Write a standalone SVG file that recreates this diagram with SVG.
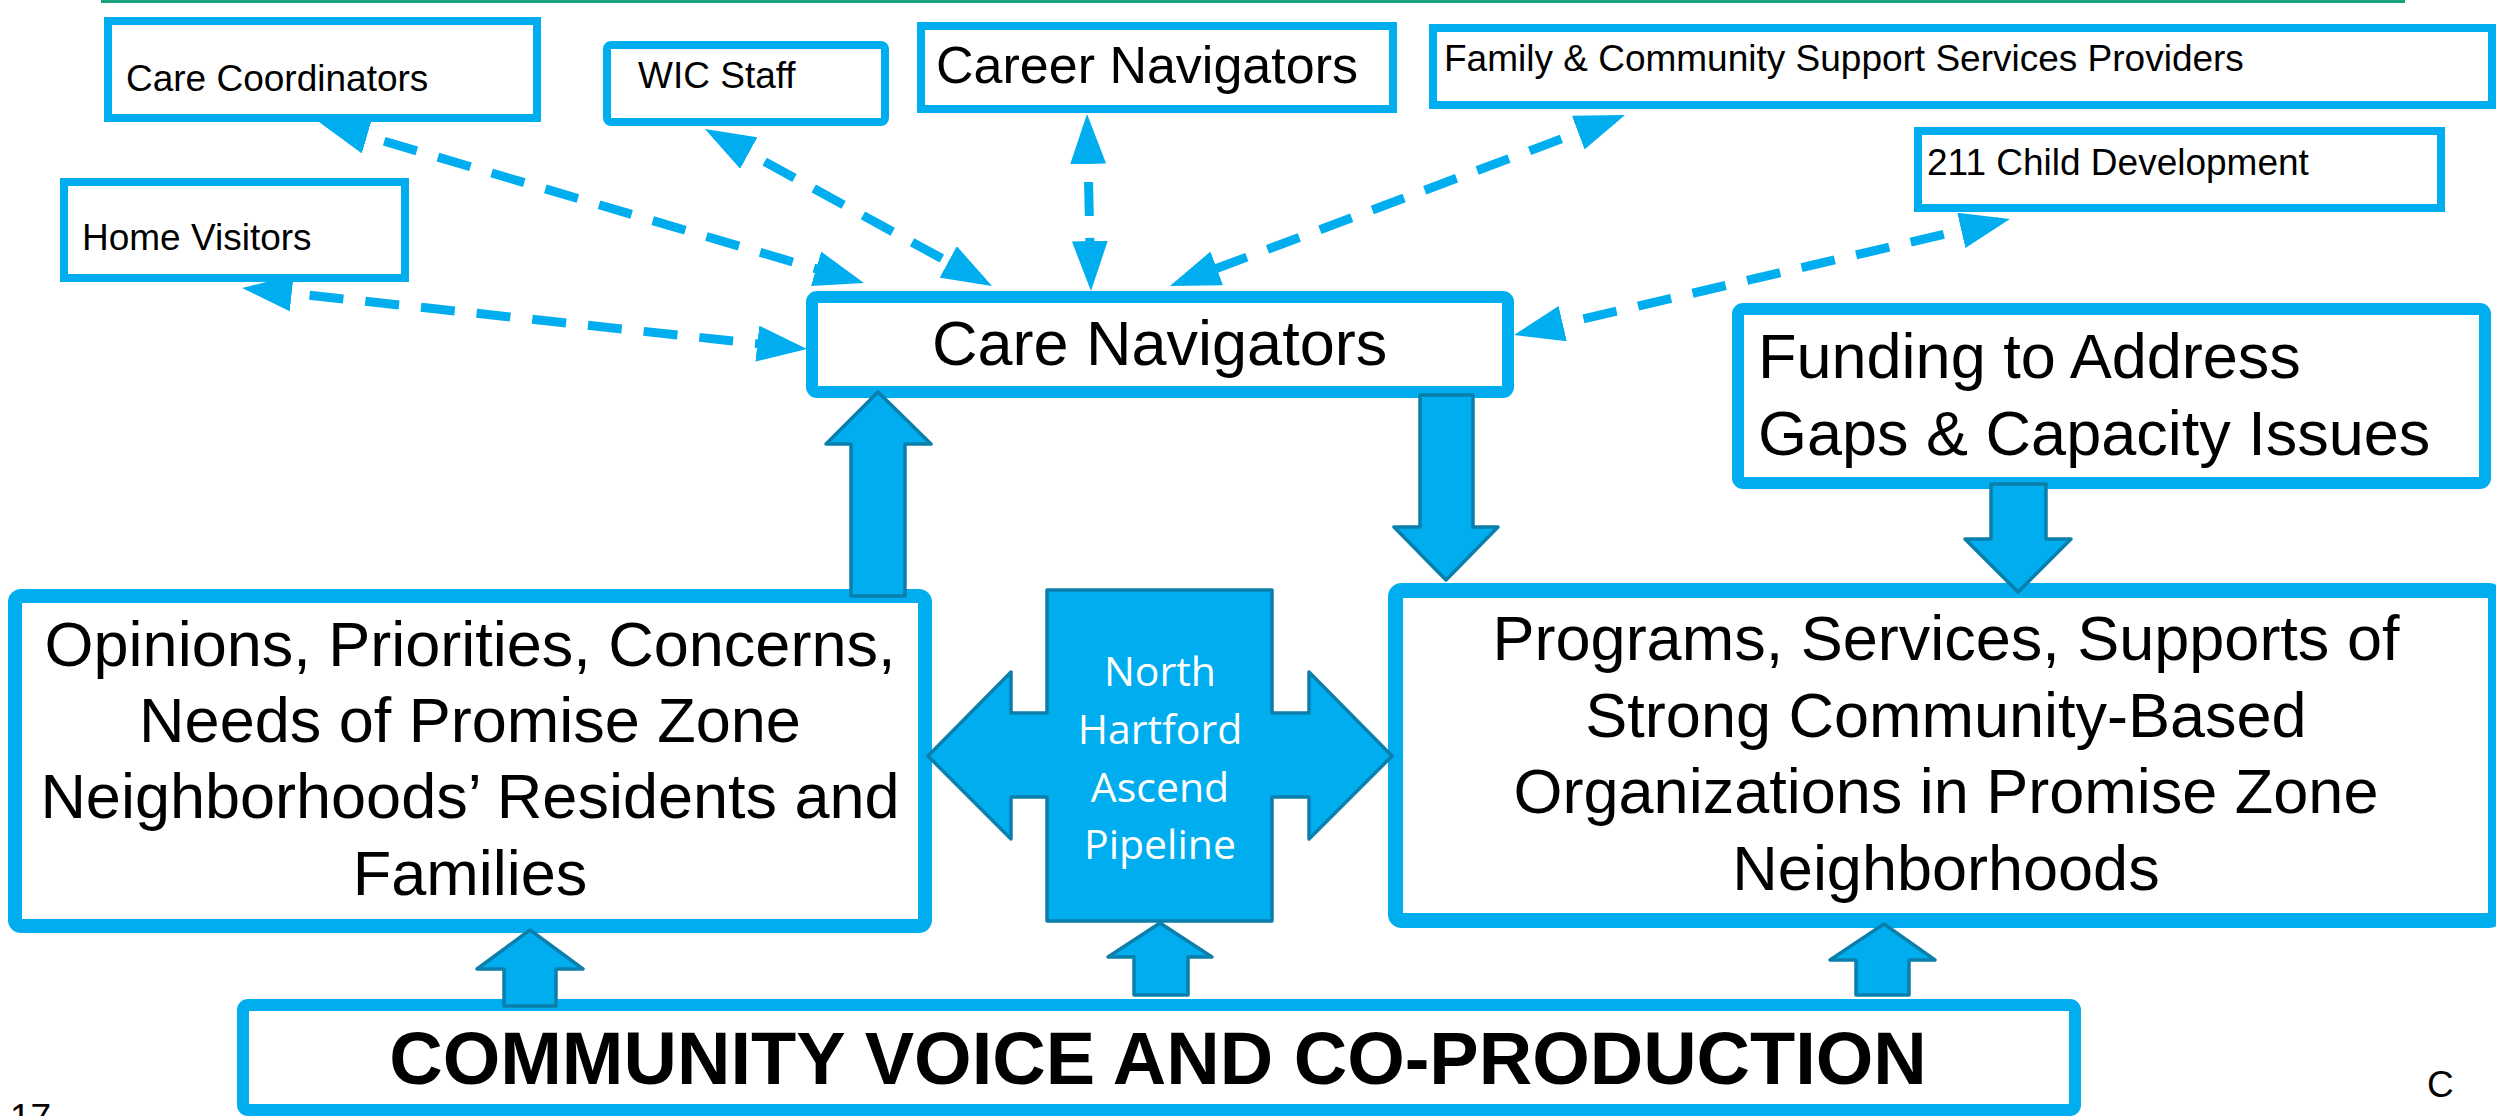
<svg xmlns="http://www.w3.org/2000/svg" width="2496" height="1116" viewBox="0 0 2496 1116">
<style>
.box{fill:#fff;stroke:#00AEEF}
.t{font-family:"Liberation Sans",Arial,sans-serif;fill:#000}
.blk{fill:#00AEEF;stroke:#0B7FAB;stroke-width:3.5;stroke-linejoin:round}
.dash{fill:none;stroke:#00AEEF;stroke-width:9;stroke-dasharray:34 22;marker-start:url(#ah);marker-end:url(#ah)}
.pt{font-family:"Open Sans","Noto Sans",sans-serif;fill:#fff;font-size:41px;text-anchor:middle}
</style>
<defs>
<marker id="ah" markerUnits="userSpaceOnUse" markerWidth="50" markerHeight="36" refX="38" refY="18" orient="auto-start-reverse" viewBox="0 0 50 36">
<path d="M0,0 L50,18 L0,36 z" fill="#00AEEF"/>
</marker>
</defs>
<line x1="101" y1="1.5" x2="2405" y2="1.5" stroke="#1BA37E" stroke-width="3"/>

<g id="care-coordinators"><rect class="box" x="108" y="21" width="429" height="97" stroke-width="8"/><text class="t" x="126" y="91" font-size="37">Care Coordinators</text></g>
<g id="wic-staff"><rect class="box" x="607" y="45" width="278" height="77" rx="4" stroke-width="8"/><text class="t" x="638" y="88" font-size="37">WIC Staff</text></g>
<g id="home-visitors"><rect class="box" x="64" y="182" width="341" height="96" stroke-width="8"/><text class="t" x="82" y="250" font-size="37">Home Visitors</text></g>
<g id="career-navigators"><rect class="box" x="921" y="26" width="472" height="83" stroke-width="8"/><text class="t" x="936" y="83" font-size="52">Career Navigators</text></g>
<g id="family-community"><rect class="box" x="1433" y="28" width="1059" height="77" stroke-width="8"/><text class="t" x="1444" y="71" font-size="37">Family &amp; Community Support Services Providers</text></g>
<g id="child-development"><rect class="box" x="1918" y="131" width="523" height="77" stroke-width="8"/><text class="t" x="1927" y="175" font-size="37">211 Child Development</text></g>
<g id="care-navigators"><rect class="box" x="812" y="297" width="696" height="95" rx="5" stroke-width="12"/><text class="t" x="932" y="365" font-size="63">Care Navigators</text></g>
<g id="funding"><rect class="box" x="1738" y="309" width="747" height="174" rx="5" stroke-width="12"/><text class="t" font-size="63"><tspan x="1758" y="378">Funding to Address</tspan><tspan x="1758" y="455">Gaps &amp; Capacity Issues</tspan></text></g>
<g id="opinions"><rect class="box" x="15" y="596" width="910" height="330" rx="6" stroke-width="14"/><text class="t" font-size="63" text-anchor="middle"><tspan x="470" y="666">Opinions, Priorities, Concerns,</tspan><tspan x="470" y="742">Needs of Promise Zone</tspan><tspan x="470" y="818">Neighborhoods’ Residents and</tspan><tspan x="470" y="895">Families</tspan></text></g>
<g id="programs"><rect class="box" x="1395.5" y="590.5" width="1100" height="330" rx="6" stroke-width="15"/><text class="t" font-size="63" text-anchor="middle"><tspan x="1946" y="660">Programs, Services, Supports of</tspan><tspan x="1946" y="737">Strong Community-Based</tspan><tspan x="1946" y="813">Organizations in Promise Zone</tspan><tspan x="1946" y="890">Neighborhoods</tspan></text></g>
<g id="community-voice"><rect class="box" x="243" y="1005" width="1832" height="105" rx="5" stroke-width="12"/><text class="t" x="1158" y="1084" font-size="74" font-weight="bold" text-anchor="middle">COMMUNITY VOICE AND CO-PRODUCTION</text></g>
<g id="pipeline"><polygon class="blk" points="1047,590 1272,590 1272,713 1309,713 1309,672 1392,756 1309,839 1309,797 1272,797 1272,921 1047,921 1047,797 1011,797 1011,839 928,756 1011,672 1011,713 1047,713"/><text class="pt"><tspan x="1160" y="686">North</tspan><tspan x="1160" y="744">Hartford</tspan><tspan x="1160" y="802">Ascend</tspan><tspan x="1160" y="859">Pipeline</tspan></text></g>

<g id="connectors">
<line class="dash" x1="330.5" y1="125.4" x2="852.5" y2="279.6"/>
<line class="dash" x1="715.5" y1="134.8" x2="981.5" y2="280.2"/>
<line class="dash" x1="253.9" y1="289.3" x2="795.1" y2="347.7"/>
<line class="dash" x1="1087.3" y1="126" x2="1090.7" y2="279"/>
<line class="dash" x1="1613.8" y1="119.2" x2="1181.2" y2="281.8"/>
<line class="dash" x1="1998.3" y1="221.7" x2="1525.7" y2="332.3"/>
<polygon class="blk" points="878,392 931,444 905,444 905,596 851,596 851,444 826,444"/>
<polygon class="blk" points="1420,395 1473,395 1473,527 1498,527 1446,580 1394,527 1420,527"/>
<polygon class="blk" points="1991,484 2046,484 2046,539 2071,539 2018,592 1965,539 1991,539"/>
<polygon class="blk" points="530,930 583,969 556,969 556,1006 504,1006 504,969 477,969"/>
<polygon class="blk" points="1160,923 1212,957 1188,957 1188,995 1134,995 1134,957 1108,957"/>
<polygon class="blk" points="1884,924 1935,960 1909,960 1909,995 1856,995 1856,960 1830,960"/>
</g>

<text class="t" x="2427" y="1097" font-size="37">C</text>
<text class="t" x="10" y="1130" font-size="37">17</text>
</svg>
